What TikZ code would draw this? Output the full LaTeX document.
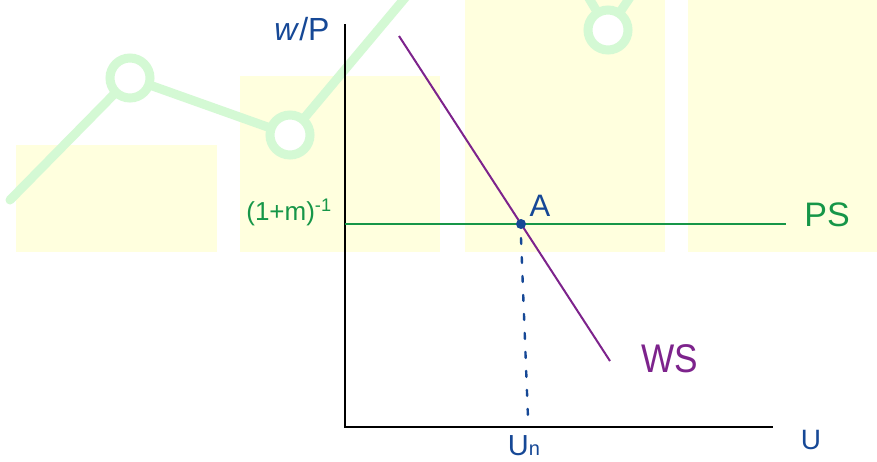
\documentclass[tikz,border=0pt]{standalone}
\usepackage{fontspec}
\setmainfont{Liberation Sans}
\definecolor{hblue}{RGB}{22,72,150}
\definecolor{hgreen}{RGB}{22,150,72}
\definecolor{hpurple}{RGB}{125,35,140}
\definecolor{bgbar}{RGB}{255,255,222}
\definecolor{bgline}{RGB}{212,249,212}
\tikzset{
  lbl/.style={inner sep=0pt, anchor=center},
  axisline/.style={line width=2.5pt, black},
  bgring/.style={draw=bgline, fill=white, line width=9pt},
}
\begin{document}
\begin{tikzpicture}[x=1pt,y=-1pt]
\useasboundingbox (0,0) rectangle (877,461);
\fill[white] (0,0) rectangle (877,461);
\begin{scope}
\clip (0,0) rectangle (877,461);
% faint background chart
\fill[bgbar] (16,145) rectangle (217,252);
\fill[bgbar] (240,76) rectangle (440,252);
\fill[bgbar] (465,0) rectangle (665,252);
\fill[bgbar] (688,0) rectangle (877,252);
\draw[bgline, line width=9pt, line join=round, line cap=round]
  (10,200) -- (130,78) -- (290,135) -- (420,-20);
\draw[bgline, line width=9pt, line join=round]
  (575,-25) -- (608,30) -- (645,-25);
\draw[bgring] (130,78) circle[radius=20];
\draw[bgring] (290,135) circle[radius=20];
\draw[bgring] (608,30) circle[radius=20];
\end{scope}
% axes
\coordinate (origin) at (345,427);
\coordinate (ytop) at (345,24);
\coordinate (xend) at (773,427);
\draw[axisline] (ytop) -- (origin) -- (xend);
% curves
\coordinate (ps1) at (345,224);
\coordinate (ps2) at (786,224);
\draw[hgreen, line width=2.5pt] (ps1) -- (ps2);
\coordinate (ws1) at (399,36);
\coordinate (ws2) at (610,361);
\draw[hpurple, line width=2pt] (ws1) -- (ws2);
% equilibrium point
\node[circle, fill=hblue, inner sep=0pt, minimum size=10pt] (A) at (521,224) {};
\coordinate (un) at (528,418);
\draw[hblue, line width=2.4pt, dash pattern=on 6pt off 13pt, line cap=round]
  ([yshift=-14pt]A.center) -- (un);
% labels
\node[lbl, text=hblue, font=\fontsize{32}{32}\selectfont] (ylab) at (302,29) {\textit{w}/P};
\node[lbl, text=hgreen, font=\fontsize{26}{26}\selectfont] (pslev) at (289,212) {(1+m)\textsuperscript{-1}};
\node[lbl, text=hblue, font=\fontsize{31}{31}\selectfont] (Alab) at (540,206) {A};
\node[lbl, text=hgreen, font=\fontsize{34}{34}\selectfont] (pslab) at (827,215) {PS};
\node[lbl, text=hpurple, font=\fontsize{40}{40}\selectfont] (wslab) at (670,359) {\scalebox{0.88}[1]{WS}};
\node[lbl, text=hblue, font=\fontsize{28}{28}\selectfont] (xlab) at (811,440) {U};
\node[lbl, text=hblue, font=\fontsize{29}{29}\selectfont] (unlab) at (524,446) {U{\fontsize{20}{20}\selectfont n}};
\end{tikzpicture}
\end{document}
